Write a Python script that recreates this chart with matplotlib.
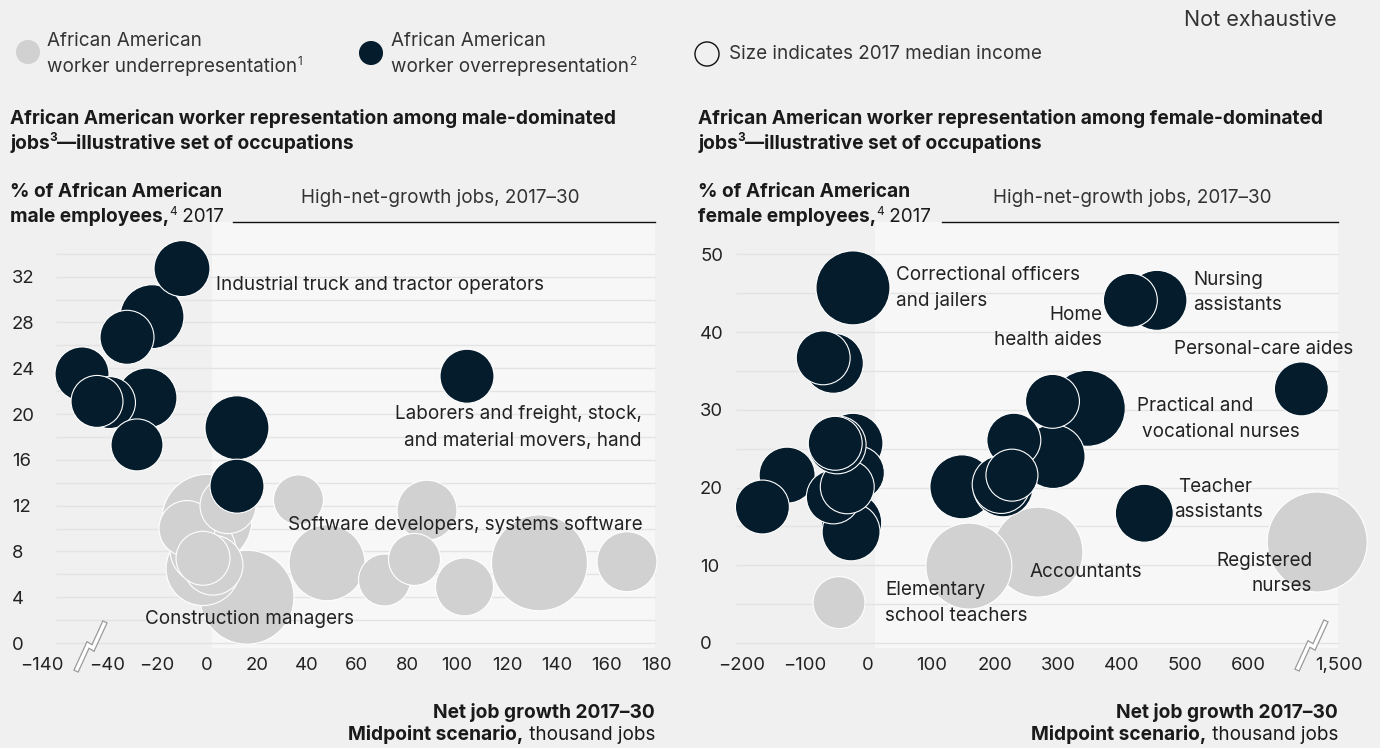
import matplotlib
matplotlib.use('Agg')
import matplotlib.pyplot as plt
from matplotlib.patches import Rectangle
import numpy as np

plt.rcParams['font.family'] = ['Inter', 'Roboto', 'DejaVu Sans']

# ---------------- data ----------------
# Male-dominated jobs (x: net job growth 2017-30, thousand jobs; y: % African American male employees;
# income: 2017 median income, $ thousand)
male_over_x = [-22, 12, -24, -10, -32, -50, -39, -44, -28, 12, 104]
male_over_y = [28.5, 18.8, 21.4, 32.7, 26.7, 23.5, 21.0, 21.1, 17.3, 13.7, 23.3]
male_over_income = [41.8, 41.8, 36.7, 32.0, 29.8, 29.8, 27.6, 27.6, 27.6, 29.8, 29.8]

male_under_x = [16, 0, 133, 48, -1.6, -1.6, 2.4, -8, 8.4, -1.6, 88, 168, 103, 71, 83, 36.6]
male_under_y = [4.0, 10.8, 7.0, 7.0, 6.5, 8.1, 6.8, 10.0, 12.0, 7.4, 11.6, 7.1, 4.9, 5.5, 7.3, 12.5]
male_under_income = [90.2, 82.7, 94.0, 58.9, 55.9, 44.4, 36.7, 32.0, 32.0, 29.8, 36.7, 36.7, 34.3, 27.6, 27.6, 25.5]

# Female-dominated jobs
female_over_x = [-24, -55, -71, 456, 414, 684, 346, 292, 291, 230, 148, 213, 210, 227, 436,
                 -26, -27, -24, -128, -167, -17, -55, -33, -49, -52]
female_over_y = [45.7, 36.0, 36.7, 44.1, 44.1, 32.7, 30.2, 24.0, 31.1, 26.1, 20.1, 20.1, 20.4, 21.6, 16.7,
                 15.5, 14.3, 25.7, 21.6, 17.5, 21.9, 18.8, 20.1, 25.5, 25.7]
female_over_income = [40.3, 26.5, 21.4, 26.5, 21.4, 21.4, 42.5, 30.1, 21.4, 21.4, 30.1, 26.5, 24.7, 19.9, 24.7,
                      26.5, 24.7, 26.5, 23.1, 21.4, 21.4, 21.4, 21.4, 24.7, 21.4]

female_under_x = [268, 159, -46, 1465]
female_under_y = [11.7, 9.9, 5.2, 13.0]
female_under_income = [59.6, 54.4, 19.9, 73.5]

male_xticks = [-140, -40, -20, 0, 20, 40, 60, 80, 100, 120, 140, 160, 180]
male_xticklabels = ['\u2212140', '\u221240', '\u221220', '0', '20', '40', '60', '80', '100', '120', '140', '160', '180']
male_yticks = [0, 4, 8, 12, 16, 20, 24, 28, 32]
female_xticks = [-200, -100, 0, 100, 200, 300, 400, 500, 600, 1500]
female_xticklabels = ['\u2212200', '\u2212100', '0', '100', '200', '300', '400', '500', '600', '1,500']
female_yticks = [0, 10, 20, 30, 40, 50]

# ---------------- style ----------------
W, H, DPI = 1380, 748, 100
NAVY = '#051c2c'
GRAY = '#d1d1d1'
BG = '#f0f0f0'
PANEL = '#f7f7f7'
GRID = '#e3e3e3'
TXT = '#1a1a1a'
FS = 13.6
FSB = 13.8
REG = 'normal'


def male_break(v):
    v = np.asarray(v, float)
    return np.where(v < -100, v + 74, v)


def female_break(v):
    v = np.asarray(v, float)
    return np.where(v > 1000, v - 756, v)


fig = plt.figure(figsize=(W / DPI, H / DPI), dpi=DPI, facecolor=BG)

# size scale: area (pt^2) per $ thousand of median income
SIZE_M = 50.7
SIZE_F = 70.4


def setup(ax, xlim, ylim, panel_x0, gx0, gx1, gstep, gtop, xt, xtl, yt, ypad):
    ax.set_facecolor('none')
    ax.set_xlim(*xlim)
    ax.set_ylim(*ylim)
    for s in ax.spines.values():
        s.set_visible(False)
    ax.add_patch(Rectangle((panel_x0, ylim[0] + 0.3 * (0 - ylim[0])), gx1 - panel_x0,
                           ylim[1] - ylim[0], facecolor=PANEL, edgecolor='none', zorder=0))
    ax.hlines(np.arange(0, gtop + 0.01, gstep), gx0, gx1, color=GRID, lw=1, zorder=1)
    ax.set_xticks(xt)
    ax.set_xticklabels(xtl)
    ax.set_yticks(yt)
    ax.tick_params(axis='both', length=0, labelsize=13.3, colors='#222222')
    ax.tick_params(axis='x', pad=5)
    ax.tick_params(axis='y', pad=ypad)
    for lab in ax.get_yticklabels():
        lab.set_horizontalalignment('left')


# Left axes
axL = fig.add_axes([37 / W, 1 - 650 / H, 620 / W, 428 / H])
setup(axL, (-68, 180), (-7 / 11.45, 36.77), 2, -60.5, 179, 2, 34,
      male_break(male_xticks), male_xticklabels, male_yticks, 18)
axL.scatter(male_break(male_under_x), male_under_y, s=np.array(male_under_income) * SIZE_M,
            c=GRAY, edgecolors='white', linewidths=0.8, zorder=3, clip_on=False)
axL.scatter(male_break(male_over_x), male_over_y, s=np.array(male_over_income) * SIZE_M,
            c=NAVY, edgecolors='white', linewidths=0.8, zorder=4, clip_on=False)

# Right axes
axR = fig.add_axes([732 / W, 1 - 650 / H, 608 / W, 428 / H])
setup(axR, (-215, 745), (-7 / 7.77, 54.18), 11, -208, 742, 5, 50,
      female_break(female_xticks), female_xticklabels, female_yticks, 23)
axR.scatter(female_break(female_under_x), female_under_y, s=np.array(female_under_income) * SIZE_F,
            c=GRAY, edgecolors='white', linewidths=0.8, zorder=3, clip_on=False)
axR.scatter(female_break(female_over_x), female_over_y, s=np.array(female_over_income) * SIZE_F,
            c=NAVY, edgecolors='white', linewidths=0.8, zorder=4, clip_on=False)

# Overlay in pixel coordinates for annotations
ov = fig.add_axes([0, 0, 1, 1], zorder=10)
ov.set_xlim(0, W)
ov.set_ylim(H, 0)
ov.axis('off')
ov.patch.set_alpha(0)

renderer = fig.canvas.get_renderer()


def txt(x, y, s, ha='left', weight=REG, size=None, color=TXT):
    if size is None:
        size = FSB if weight == 'bold' else FS
    return ov.text(x, y, s, ha=ha, va='center', fontsize=size, fontweight=weight, color=color)


def rich(x, y, parts, ha='left', color=TXT):
    """parts: (text, weight, size, dy_px)"""
    arts, widths = [], []
    for s, weight, size, dy in parts:
        a = ov.text(0, y + dy, s, ha='left', va='center', fontsize=size, fontweight=weight, color=color)
        bb = a.get_window_extent(renderer)
        arts.append(a)
        widths.append(bb.width)
    total = sum(widths)
    cur = x if ha == 'left' else x - total
    for a, w in zip(arts, widths):
        a.set_x(cur)
        cur += w


SUP = 8.5
SUPDY = -5

# Legend
ov.scatter([28], [52], s=300, c=GRAY, edgecolors='none')
ov.scatter([371], [53], s=300, c=NAVY, edgecolors='none')
ov.scatter([707], [54], s=300, facecolors='none', edgecolors='#111111', linewidths=1.0)
LG = '#333333'
txt(47, 41, 'African American', color=LG)
rich(47, 67, [('worker underrepresentation', REG, FS, 0), ('1', REG, SUP, SUPDY)], color=LG)
txt(391, 41, 'African American', color=LG)
rich(391, 67, [('worker overrepresentation', REG, FS, 0), ('2', REG, SUP, SUPDY)], color=LG)
txt(729, 54, 'Size indicates 2017 median income', color=LG)
txt(1337, 20, 'Not exhaustive', ha='right', size=15.5, color=LG)

# Titles
for x0, word in [(10, 'male'), (698, 'female')]:
    txt(x0, 118, 'African American worker representation among %s-dominated' % word, weight='bold')
    rich(x0, 143, [('jobs', 'bold', FSB, 0), ('3', 'bold', SUP, SUPDY),
                   ('\u2014illustrative set of occupations', 'bold', FSB, 0)])
    # Y-axis titles
    txt(x0, 192, '% of African American', weight='bold')
    rich(x0, 217, [('%s employees,' % word, 'bold', FSB, 0), ('4', REG, SUP, SUPDY),
                   (' 2017', REG, FS, 0)])

# High-net-growth headers
txt(440, 198, 'High-net-growth jobs, 2017\u201330', ha='center', color=LG)
txt(1132, 198, 'High-net-growth jobs, 2017\u201330', ha='center', color=LG)
ov.plot([233, 655], [222, 222], color='#111111', lw=1)
ov.plot([942, 1338], [222, 222], color='#111111', lw=1)

# X-axis titles
for xr in (655, 1338):
    txt(xr, 712, 'Net job growth 2017\u201330', ha='right', weight='bold')
    rich(xr, 735, [('Midpoint scenario,', 'bold', FSB, 0), (' thousand jobs', REG, FS, 0)], ha='right')

# Bubble labels (left)
LC = '#222222'
txt(216, 285, 'Industrial truck and tractor operators', color=LC)
txt(642, 414, 'Laborers and freight, stock,', ha='right', color=LC)
txt(642, 441, 'and material movers, hand', ha='right', color=LC)
txt(288, 525, 'Software developers, systems software', color=LC)
txt(145, 619, 'Construction managers', color=LC)

# Bubble labels (right)
txt(896, 275, 'Correctional officers', color=LC)
txt(896, 301, 'and jailers', color=LC)
txt(1102, 315, 'Home', ha='right', color=LC)
txt(1102, 340, 'health aides', ha='right', color=LC)
txt(1193, 280, 'Nursing', color=LC)
txt(1193, 305, 'assistants', color=LC)
txt(1353, 349, 'Personal-care aides', ha='right', color=LC)
txt(1137, 406, 'Practical and', color=LC)
txt(1142, 432, 'vocational nurses', color=LC)
txt(1215, 487, 'Teacher', ha='center', color=LC)
txt(1219, 512, 'assistants', ha='center', color=LC)
txt(1312, 561, 'Registered', ha='right', color=LC)
txt(1312, 586, 'nurses', ha='right', color=LC)
txt(1030, 572, 'Accountants', color=LC)
txt(885, 590, 'Elementary', color=LC)
txt(885, 616, 'school teachers', color=LC)


# Axis break symbols
def brk(x0, y0):
    pts_x = np.array([0, 11, 16, 27]) + x0
    pts_y = np.array([0, -24, -21, -45]) + y0
    ov.plot(pts_x, pts_y, color='#9a9a9a', lw=4.2, solid_joinstyle='miter', zorder=11)
    ov.plot(pts_x, pts_y, color='white', lw=2.4, solid_joinstyle='miter', zorder=12)


brk(77, 669)
brk(1298, 668)

fig.savefig('out.png', dpi=DPI, facecolor=BG)
